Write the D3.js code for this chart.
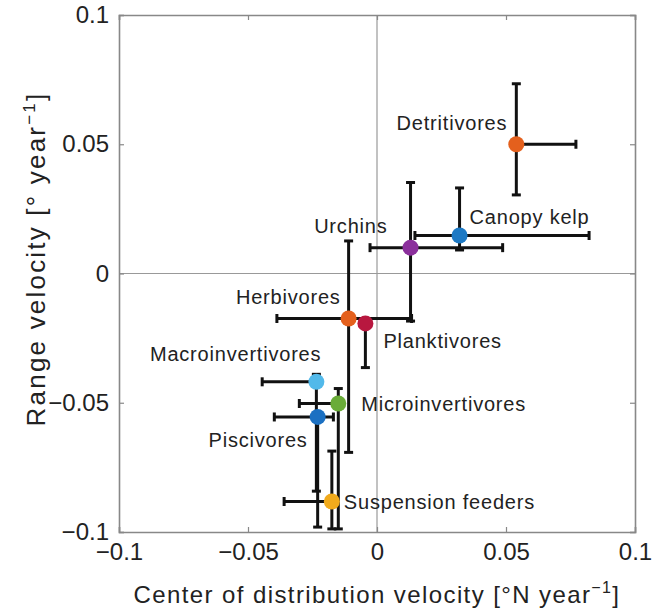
<!DOCTYPE html>
<html><head><meta charset="utf-8">
<script src="https://cdn.jsdelivr.net/npm/d3@7"></script>
<style>body{margin:0;background:#fff}text{font-family:"Liberation Sans",Arial,Helvetica,sans-serif;fill:#222}</style>
</head><body>
<svg id="c" width="662" height="611"></svg>
<script>
// ---- data ----
const groups   = ["Detritivores","Canopy kelp","Urchins","Herbivores","Planktivores","Macroinvertivores","Microinvertivores","Piscivores","Suspension feeders"];
const xVals    = [0.054, 0.032, 0.013, -0.011, -0.0045, -0.0235, -0.015, -0.023, -0.0175];
const yVals    = [0.050, 0.0147, 0.010, -0.0174, -0.0193, -0.0419, -0.0503, -0.0555, -0.0882];
const xLow     = [0.054, 0.0147, -0.0027, -0.0388, -0.0045, -0.0445, -0.0301, -0.0398, -0.036];
const xHigh    = [0.0771, 0.0822, 0.0487, 0.0134, -0.0045, -0.0235, -0.015, -0.0169, -0.0175];
const yLow     = [0.0304, 0.0091, -0.0184, -0.0692, -0.0364, -0.0842, -0.0988, -0.0981, -0.0988];
const yHigh    = [0.0734, 0.0331, 0.0352, 0.0126, -0.0193, -0.0390, -0.0445, -0.0555, -0.0687];
const colors   = ["#e4601d","#1d79c4","#8b2f9c","#e4601d","#b8173f","#52b9ea","#6aac38","#1b70c2","#f1aa1c"];
const xTicks   = [-0.1, -0.05, 0, 0.05, 0.1];
const yTicks   = [-0.1, -0.05, 0, 0.05, 0.1];
const tickLabels = ["\u22120.1","\u22120.05","0","0.05","0.1"];
// label layout (offsets from the point, anchor)
const labelLayout = [[-9,-21,"end"],[10,-19,"start"],[-23,-22,"end"],[-8,-22,"end"],[18,17,"start"],[5,-28,"end"],[23,0,"start"],[-10,23,"end"],[12,0,"start"]];

const svg = d3.select("#c");
const L=119, R=635, T=15, B=532;
const x = d3.scaleLinear().domain([-0.1,0.1]).range([L,R]);
const y = d3.scaleLinear().domain([-0.1,0.1]).range([B,T]);

// zero lines
svg.append("line").attr("x1",x(0)).attr("x2",x(0)).attr("y1",T).attr("y2",B).attr("stroke","#999").attr("stroke-width",1.2);
svg.append("line").attr("x1",L).attr("x2",R).attr("y1",y(0)).attr("y2",y(0)).attr("stroke","#999").attr("stroke-width",1.2);

// axes (ticks inward, all four sides)
const fmt = (d,i)=>tickLabels[i];
const ax = [
  d3.axisBottom(x).tickValues(xTicks).tickSize(-5).tickPadding(11).tickFormat(fmt),
  d3.axisLeft(y).tickValues(yTicks).tickSize(-5).tickPadding(10).tickFormat(fmt),
  d3.axisTop(x).tickValues(xTicks).tickSize(-5).tickFormat(""),
  d3.axisRight(y).tickValues(yTicks).tickSize(-5).tickFormat("")
];
const pos = [[0,B],[L,0],[0,T],[R,0]];
ax.forEach((a,i)=>{
  const g = svg.append("g").attr("transform",`translate(${pos[i][0]},${pos[i][1]})`).call(a);
  g.select(".domain").attr("stroke","#888").attr("stroke-width",1.6);
  g.selectAll(".tick line").attr("stroke","#888").attr("stroke-width",1.2);
  g.selectAll(".tick text").attr("font-size",24).attr("fill","#222").attr("font-family","Liberation Sans, Arial, sans-serif");
});

// error bars
const cap = 4.5;
const eb = svg.append("g").attr("stroke","#111").attr("stroke-width",3);
groups.forEach((g,i)=>{
  const cx=x(xVals[i]), cy=y(yVals[i]);
  if (yHigh[i]!==yVals[i] || yLow[i]!==yVals[i]) {
    eb.append("line").attr("x1",cx).attr("x2",cx).attr("y1",y(yLow[i])).attr("y2",y(yHigh[i]));
  }
  if (yHigh[i]!==yVals[i]) eb.append("line").attr("x1",cx-cap).attr("x2",cx+cap).attr("y1",y(yHigh[i])).attr("y2",y(yHigh[i]));
  if (yLow[i]!==yVals[i]) eb.append("line").attr("x1",cx-cap).attr("x2",cx+cap).attr("y1",y(yLow[i])).attr("y2",y(yLow[i]));
  if (xHigh[i]!==xVals[i] || xLow[i]!==xVals[i]) {
    eb.append("line").attr("x1",x(xLow[i])).attr("x2",x(xHigh[i])).attr("y1",cy).attr("y2",cy);
  }
  if (xHigh[i]!==xVals[i]) eb.append("line").attr("x1",x(xHigh[i])).attr("x2",x(xHigh[i])).attr("y1",cy-cap).attr("y2",cy+cap);
  if (xLow[i]!==xVals[i]) eb.append("line").attr("x1",x(xLow[i])).attr("x2",x(xLow[i])).attr("y1",cy-cap).attr("y2",cy+cap);
});

// points
svg.append("g").selectAll("circle").data(groups).join("circle")
  .attr("cx",(d,i)=>x(xVals[i])).attr("cy",(d,i)=>y(yVals[i])).attr("r",8)
  .attr("fill",(d,i)=>colors[i]);

// labels
svg.append("g").selectAll("text").data(groups).join("text")
  .attr("x",(d,i)=>x(xVals[i])+labelLayout[i][0])
  .attr("y",(d,i)=>y(yVals[i])+labelLayout[i][1])
  .attr("dy","0.36em").attr("text-anchor",(d,i)=>labelLayout[i][2])
  .attr("font-size",20).attr("letter-spacing",0.8).text(d=>d);

// axis titles
const xt = svg.append("text").attr("x",(L+R)/2).attr("y",603).attr("text-anchor","middle").attr("font-size",24).attr("letter-spacing",1.4);
xt.append("tspan").text("Center of distribution velocity [\u00b0N year");
xt.append("tspan").attr("dy",-10).attr("font-size",16).text("\u22121");
xt.append("tspan").attr("dy",10).text("]");

const yt = svg.append("text").attr("transform",`translate(45,259) rotate(-90)`).attr("text-anchor","middle").attr("font-size",26).attr("letter-spacing",2.2);
yt.append("tspan").text("Range velocity [\u00b0 year");
yt.append("tspan").attr("dy",-10).attr("font-size",17).text("\u22121");
yt.append("tspan").attr("dy",10).text("]");
</script>
</body></html>
